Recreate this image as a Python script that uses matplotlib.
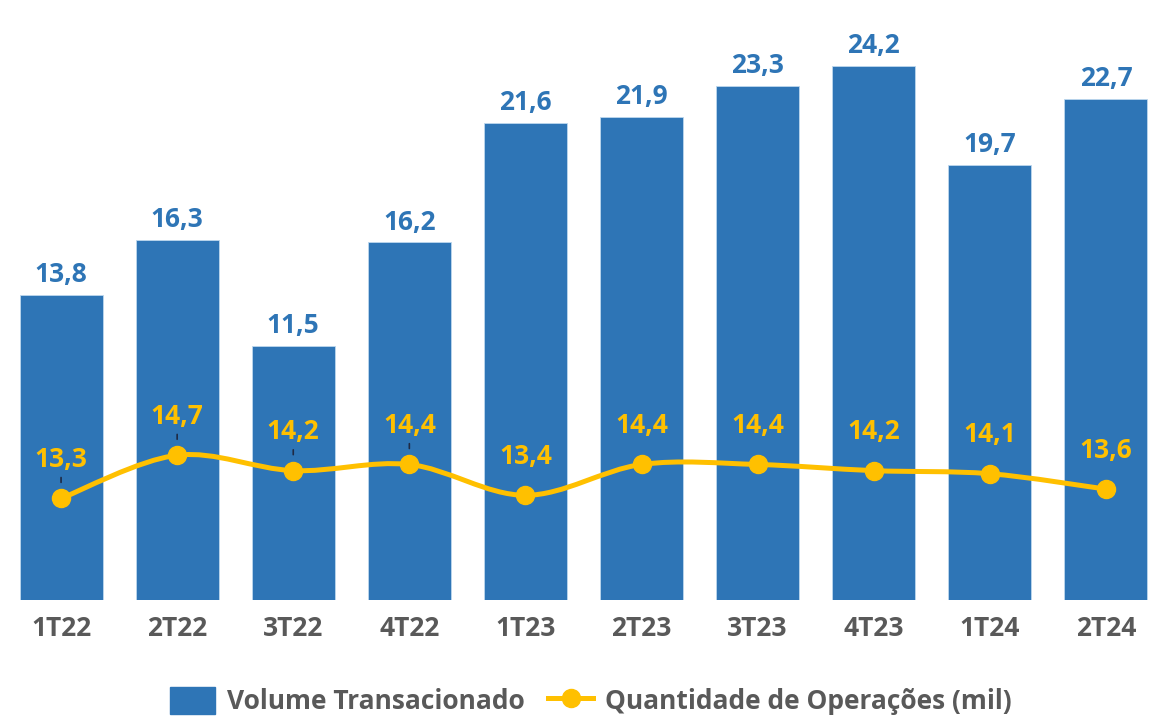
import matplotlib.pyplot as plt
import numpy as np
from matplotlib.path import Path
from matplotlib.patches import PathPatch
from matplotlib.lines import Line2D
from matplotlib.patches import Patch

plt.rcParams['font.family'] = ['Open Sans', 'DejaVu Sans']

trimestres = ['1T22', '2T22', '3T22', '4T22', '1T23', '2T23', '3T23', '4T23', '1T24', '2T24']
volume = [13.8, 16.3, 11.5, 16.2, 21.6, 21.9, 23.3, 24.2, 19.7, 22.7]
operacoes = [13.3, 14.7, 14.2, 14.4, 13.4, 14.4, 14.4, 14.2, 14.1, 13.6]
com_traco = [True, True, True, True, False, False, False, False, False, False]  # linhas-guia dos rótulos

azul = '#2E75B6'
amarelo = '#FFC000'
cinza = '#595959'
fs = 19

fig = plt.figure(figsize=(11.66, 7.21), dpi=100)
ax = fig.add_axes([3 / 1166, 1 - 600 / 721, 1161 / 1166, 560 / 721])
x = np.arange(len(trimestres))

barras = ax.bar(x, volume, width=0.715, color=azul, edgecolor='#BDD7EE', linewidth=0.6, zorder=2)
for xi, v in zip(x, volume):
    ax.annotate(f'{v:.1f}'.replace('.', ','), (xi, v), xytext=(0, 5), textcoords='offset points',
                ha='center', va='bottom', fontsize=fs, fontweight='bold', color=azul)

ax.set_xlim(-0.5, len(trimestres) - 0.5)
ax.set_ylim(0, 560 / 22.07)
ax.set_xticks(x)
ax.set_xticklabels(trimestres, fontsize=fs, fontweight='bold', color=cinza)
ax.tick_params(axis='x', length=0, pad=11)
ax.set_yticks([])
for s in ax.spines.values():
    s.set_visible(False)

ax2 = ax.twinx()
ax2.set_ylim(10, 10 + 560 / 30.8)
ax2.set_yticks([])
for s in ax2.spines.values():
    s.set_visible(False)

# linha suavizada (bezier tipo Catmull-Rom)
pts = np.column_stack([x, operacoes]).astype(float)
verts = [pts[0]]
codes = [Path.MOVETO]
n = len(pts)
for i in range(n - 1):
    p0 = pts[i - 1] if i > 0 else pts[i]
    p1 = pts[i]
    p2 = pts[i + 1]
    p3 = pts[i + 2] if i + 2 < n else pts[i + 1]
    c1 = p1 + (p2 - p0) / 6
    c2 = p2 - (p3 - p1) / 6
    verts += [c1, c2, p2]
    codes += [Path.CURVE4] * 3
ax2.add_patch(PathPatch(Path(verts, codes), facecolor='none', edgecolor=amarelo, lw=3.6,
                        capstyle='round', zorder=3))
ax2.plot(x, operacoes, 'o', color=amarelo, markersize=13, zorder=4)

for xi, v, t in zip(x, operacoes, com_traco):
    ax2.annotate(f'{v:.1f}'.replace('.', ','), (xi, v), xytext=(0, 28), textcoords='offset points',
                 ha='center', va='center', fontsize=fs, fontweight='bold', color=amarelo, zorder=5)
    if t:
        ax2.annotate('', (xi, v), xytext=(0, 15), textcoords='offset points',
                     arrowprops=dict(arrowstyle='-', color='#1F2A44', lw=1.2, shrinkA=0, shrinkB=11.5))

handles = [Patch(facecolor=azul, edgecolor=azul),
           Line2D([], [], color=amarelo, lw=3.6, marker='o', markersize=13)]
fig.legend(handles, ['Volume Transacionado', 'Quantidade de Operações (mil)'],
           loc='center', bbox_to_anchor=(591 / 1166, 1 - 701 / 721), ncol=2, frameon=False,
           prop={'size': fs, 'weight': 'bold'}, labelcolor=cinza,
           handlelength=1.7, handleheight=1.25, columnspacing=0.9, handletextpad=0.45)

fig.savefig('out.png', dpi=100)
